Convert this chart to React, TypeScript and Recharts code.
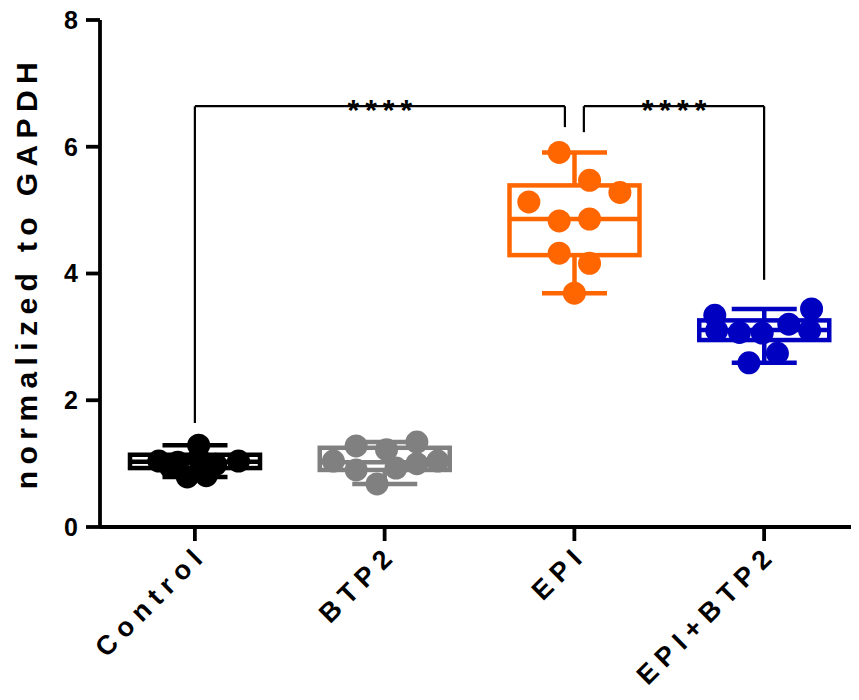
import React from 'react';
import { ComposedChart, Bar, Scatter, XAxis, YAxis, ReferenceLine, ReferenceDot } from 'recharts';

const groups = ['Control', 'BTP2', 'EPI', 'EPI+BTP2'];
const colors = ['#000000', '#808080', '#FF6600', '#0000C0'];

// box & whisker statistics (min to max)
const mins = [0.79, 0.68, 3.69, 2.59];
const q1s = [0.93, 0.9, 4.29, 2.95];
const medians = [1.03, 1.02, 4.86, 3.11];
const q3s = [1.14, 1.25, 5.39, 3.26];
const maxs = [1.29, 1.34, 5.91, 3.44];

// replicates, with horizontal spread inside each column
const controlValues = [1.29, 1.04, 1.02, 1.08, 0.99, 1.04, 0.79, 0.81, 0.95];
const controlSpread = [0.02, -0.19, -0.09, 0.02, 0.11, 0.23, -0.04, 0.06, -0.13];
const btp2Values = [1.28, 1.22, 1.34, 1.04, 0.9, 0.68, 0.93, 1.0, 1.04];
const btp2Spread = [-0.15, 0.01, 0.17, -0.27, -0.15, -0.04, 0.06, 0.17, 0.28];
const epiValues = [5.91, 5.47, 5.28, 5.13, 4.83, 4.86, 4.32, 4.16, 3.69];
const epiSpread = [-0.08, 0.08, 0.24, -0.24, -0.08, 0.08, -0.08, 0.08, 0];
const comboValues = [3.34, 3.44, 3.2, 3.1, 3.07, 3.06, 3.1, 2.74, 2.59];
const comboSpread = [-0.26, 0.25, 0.13, -0.25, -0.13, -0.01, 0.24, 0.07, -0.08];

const yTicks = [0, 2, 4, 6, 8];

// significance brackets: group indices, foot heights and bar height
const brackets = [
  { from: 0, to: 2, footA: 1.64, footB: 6.31, top: 6.64, label: '****' },
  { from: 2, to: 3, footA: 6.23, footB: 3.9, top: 6.64, label: '****' },
];

const FONT = '"Liberation Sans", Arial, Helvetica, sans-serif';

const boxTable = groups.map((g, i) => ({
  group: g,
  range: [mins[i], maxs[i]],
  min: mins[i],
  q1: q1s[i],
  median: medians[i],
  q3: q3s[i],
  max: maxs[i],
  color: colors[i],
}));

const pointSets = [
  [controlValues, controlSpread],
  [btp2Values, btp2Spread],
  [epiValues, epiSpread],
  [comboValues, comboSpread],
].map(([vals, spread], i) => vals.map((v, k) => ({ x: i + 0.5 + spread[k], y: v })));

const BoxShape = (props: any) => {
  const { x, y, width, height, payload } = props;
  const top = Math.min(y, y + height);
  const bottom = Math.max(y, y + height);
  const toPx = (v: number) =>
    bottom - ((v - payload.min) / (payload.max - payload.min)) * (bottom - top);
  const cx = x + width / 2;
  const cap = width / 4;
  const c = payload.color;
  const sw = 4.5;
  return (
    <g stroke={c} strokeWidth={sw} fill="none">
      <line x1={cx} x2={cx} y1={toPx(payload.max)} y2={toPx(payload.q3)} />
      <line x1={cx} x2={cx} y1={toPx(payload.q1)} y2={toPx(payload.min)} />
      <line x1={cx - cap} x2={cx + cap} y1={toPx(payload.max)} y2={toPx(payload.max)} />
      <line x1={cx - cap} x2={cx + cap} y1={toPx(payload.min)} y2={toPx(payload.min)} />
      <rect x={x} y={toPx(payload.q3)} width={width} height={toPx(payload.q1) - toPx(payload.q3)} />
      <line x1={x} x2={x + width} y1={toPx(payload.median)} y2={toPx(payload.median)} />
    </g>
  );
};

const Dot = (props: any) => <circle cx={props.cx} cy={props.cy} r={11.5} fill={props.fill} />;

const GroupTick = ({ x, y, payload }: any) => (
  <g transform={`translate(${x + 14},${y + 13})`}>
    <text
      textAnchor="end"
      transform="rotate(-45)"
      fontFamily={FONT}
      fontWeight="bold"
      fontSize={27}
      letterSpacing={7}
      fill="#000"
    >
      {payload.value}
    </text>
  </g>
);

const YTitle = (props: any) => {
  const { viewBox } = props;
  const cy = viewBox.y + viewBox.height / 2 - 1;
  return (
    <text
      x={37}
      y={cy}
      transform={`rotate(-90, 37, ${cy})`}
      textAnchor="middle"
      fontFamily={FONT}
      fontWeight="bold"
      fontSize={30}
      letterSpacing={6.4}
      fill="#000"
    >
      normalized to GAPDH
    </text>
  );
};

const Stars = (text: string) => (props: any) => (
  <text
    x={props.cx + 3}
    y={props.cy + 14}
    textAnchor="middle"
    fontFamily={FONT}
    fontWeight="bold"
    fontSize={30}
    letterSpacing={6}
    fill="#000"
  >
    {text}
  </text>
);

export default function App() {
  const gap = 0.05;
  return (
    <div style={{ width: 859, height: 698, margin: '-8px 0 0 -8px' }}>
      <ComposedChart
        width={859}
        height={698}
        data={boxTable}
        margin={{ top: 20, right: 0, left: 0, bottom: 0 }}
      >
        <XAxis
          xAxisId="cat"
          dataKey="group"
          type="category"
          height={171}
          interval={0}
          axisLine={{ stroke: '#000', strokeWidth: 3.8 }}
          tickLine={{ stroke: '#000', strokeWidth: 3.8 }}
          tickSize={14}
          tick={<GroupTick />}
        />
        <XAxis xAxisId="num" type="number" dataKey="x" domain={[0, 4]} hide allowDataOverflow />
        <YAxis
          width={100}
          domain={[0, 8]}
          ticks={yTicks}
          interval={0}
          axisLine={{ stroke: '#000', strokeWidth: 3.8 }}
          tickLine={{ stroke: '#000', strokeWidth: 3.8 }}
          tickSize={14}
          tickMargin={8}
          tick={{ fill: '#000', fontFamily: FONT, fontWeight: 'bold', fontSize: 25 }}
          label={(p: any) => <YTitle {...p} />}
        />
        <Bar
          xAxisId="cat"
          dataKey="range"
          barSize={130}
          shape={<BoxShape />}
          isAnimationActive={false}
        />
        {pointSets.map((pts, i) => (
          <Scatter
            key={groups[i]}
            xAxisId="num"
            data={pts}
            dataKey="y"
            fill={colors[i]}
            shape={<Dot />}
            isAnimationActive={false}
          />
        ))}
        {brackets.map((b, i) => {
          const xa = b.from + 0.5 + (b.from === 2 ? gap : 0);
          const xb = b.to + 0.5 - (b.to === 2 ? gap : 0);
          const seg = { xAxisId: 'num', stroke: '#000', strokeWidth: 2.2, ifOverflow: 'visible' as const };
          return (
            <React.Fragment key={i}>
              <ReferenceLine {...seg} segment={[{ x: xa, y: b.footA }, { x: xa, y: b.top }]} />
              <ReferenceLine {...seg} segment={[{ x: xa, y: b.top }, { x: xb, y: b.top }]} />
              <ReferenceLine {...seg} segment={[{ x: xb, y: b.top }, { x: xb, y: b.footB }]} />
              <ReferenceDot
                xAxisId="num"
                x={(xa + xb) / 2}
                y={b.top}
                ifOverflow="visible"
                shape={Stars(b.label)}
              />
            </React.Fragment>
          );
        })}
      </ComposedChart>
    </div>
  );
}
